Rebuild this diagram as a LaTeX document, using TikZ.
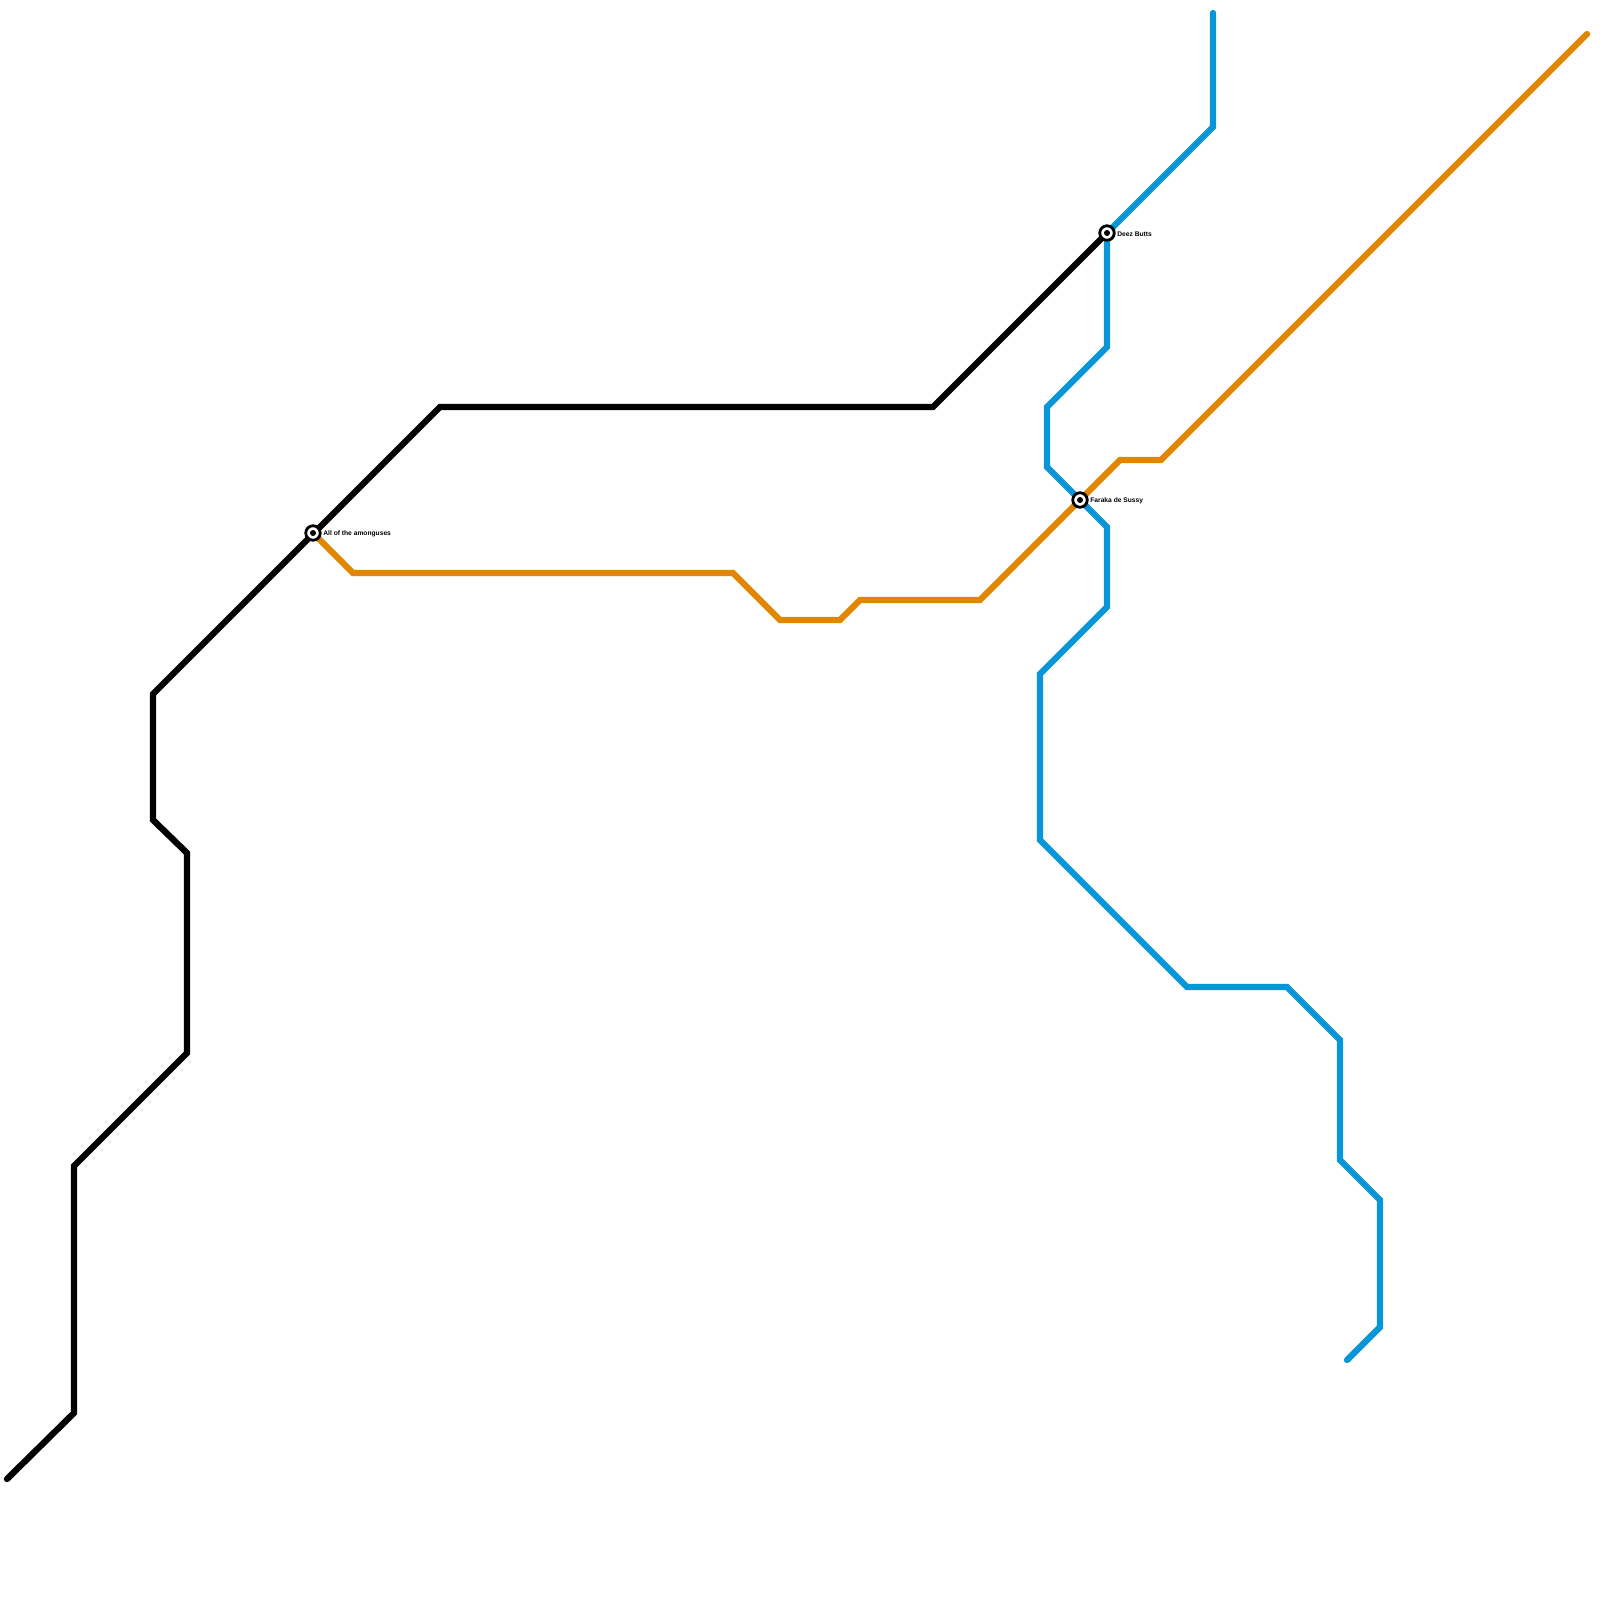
\documentclass[tikz,border=0pt]{standalone}
\usepackage{fontspec}
\setmainfont{Liberation Sans}
\usetikzlibrary{positioning}
\definecolor{linedark}{HTML}{000000}
\definecolor{lineorange}{HTML}{E08600}
\definecolor{lineblue}{HTML}{0896D7}
\tikzset{
  metroline/.style={line width=1.8pt,line cap=round,line join=miter},
  stationnode/.style={circle,draw=black,line width=0.8pt,fill=white,minimum size=0.145cm,inner sep=0pt,path picture={\fill[black] (path picture bounding box.center) circle (0.03cm);}},
  stationlabel/.style={font=\bfseries\fontsize{1.9pt}{2.2pt}\selectfont,inner sep=0pt,yshift=-0.008cm}
}
\begin{document}
\begin{tikzpicture}[x=0.01cm,y=-0.01cm]
\useasboundingbox (0,0) rectangle (1600,1600);
\coordinate (k0) at (7,1479);
\coordinate (k1) at (74,1413);
\coordinate (k2) at (74,1166);
\coordinate (k3) at (187,1053);
\coordinate (k4) at (187,853);
\coordinate (k5) at (153,820);
\coordinate (k6) at (153,694);
\coordinate (k7) at (440,407);
\coordinate (k8) at (933,407);
\coordinate (o0) at (1587,34);
\coordinate (o1) at (1161,460);
\coordinate (o2) at (1120,460);
\coordinate (o3) at (980,600);
\coordinate (o4) at (860,600);
\coordinate (o5) at (840,620);
\coordinate (o6) at (780,620);
\coordinate (o7) at (733,573);
\coordinate (o8) at (353,573);
\coordinate (b0) at (1213,13);
\coordinate (b1) at (1213,127);
\coordinate (b2) at (1107,347);
\coordinate (b3) at (1047,407);
\coordinate (b4) at (1047,467);
\coordinate (b5) at (1107,527);
\coordinate (b6) at (1107,607);
\coordinate (b7) at (1040,674);
\coordinate (b8) at (1040,840);
\coordinate (b9) at (1187,987);
\coordinate (b10) at (1287,987);
\coordinate (b11) at (1340,1040);
\coordinate (b12) at (1340,1160);
\coordinate (b13) at (1380,1200);
\coordinate (b14) at (1380,1327);
\coordinate (b15) at (1347,1360);
\coordinate (among) at (313,533);
\coordinate (faraka) at (1080,500);
\coordinate (deez) at (1107,233);
% lines
\draw[metroline,lineorange] (among)--(o8)--(o7)--(o6)--(o5)--(o4)--(o3)--(faraka)--(o2)--(o1)--(o0);
\draw[metroline,lineblue] (b0)--(b1)--(deez)--(b2)--(b3)--(b4)--(faraka)--(b5)--(b6)--(b7)--(b8)--(b9)--(b10)--(b11)--(b12)--(b13)--(b14)--(b15);
\draw[metroline,linedark] (k0)--(k1)--(k2)--(k3)--(k4)--(k5)--(k6)--(k7)--(k8)--(deez);
% stations
\node[stationnode] (s0) at (among) {};
\node[stationnode] (s1) at (faraka) {};
\node[stationnode] (s2) at (deez) {};
\node[stationlabel,right=0.01cm of s0] (l0) {All of the amonguses};
\node[stationlabel,right=0.01cm of s1] (l1) {Faraka de Sussy};
\node[stationlabel,right=0.01cm of s2] (l2) {Deez Butts};
\end{tikzpicture}
\end{document}
